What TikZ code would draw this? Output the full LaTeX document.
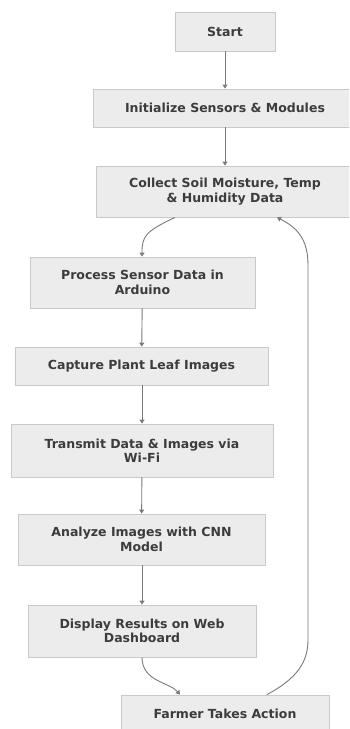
\documentclass[tikz,border=0pt]{standalone}
\usepackage{fontspec}
\setmainfont{DejaVu Sans}
\usetikzlibrary{arrows.meta}
\definecolor{boxfill}{HTML}{ECECEC}
\definecolor{boxline}{HTML}{C9C9C9}
\definecolor{txt}{HTML}{3C3C3C}
\definecolor{arr}{HTML}{7A7A7A}
\tikzset{
  stepbox/.style={draw=boxline, fill=boxfill, line width=0.9pt, inner sep=0pt,
    align=center, text=txt, font=\fontsize{12.5}{14.5}\selectfont\bfseries},
  flow/.style={draw=arr, line width=0.9pt, -{Triangle[width=5pt,length=4pt]}}
}
\begin{document}
\begin{tikzpicture}[x=1pt,y=-1pt]
\useasboundingbox (0,0) rectangle (349,729);
\clip (0,0) rectangle (349,729);
\fill[white] (0,0) rectangle (349,729);
\node[stepbox, minimum width=100pt, minimum height=39pt] (start) at (225,31.5) {Start};
\node[stepbox, minimum width=264pt, minimum height=38pt] (init) at (225,108) {Initialize Sensors \& Modules};
\node[stepbox, minimum width=258pt, minimum height=51pt] (collect) at (225,191.5) {Collect Soil Moisture, Temp\\\& Humidity Data};
\node[stepbox, minimum width=225pt, minimum height=51pt] (process) at (142.5,282.5) {Process Sensor Data in\\Arduino};
\node[stepbox, minimum width=253pt, minimum height=38pt] (capture) at (141.5,366) {Capture Plant Leaf Images};
\node[stepbox, minimum width=262pt, minimum height=53pt] (transmit) at (142,450.5) {Transmit Data \& Images via\\Wi-Fi};
\node[stepbox, minimum width=247pt, minimum height=51pt] (analyze) at (141.5,539.5) {Analyze Images with CNN\\Model};
\node[stepbox, minimum width=228pt, minimum height=52pt] (display) at (142,631) {Display Results on Web\\Dashboard};
\node[stepbox, minimum width=208pt, minimum height=38pt] (farmer) at (225,714) {Farmer Takes Action};

\draw[flow] (start) -- (init);
\draw[flow] (init) -- (collect);
\draw[flow] ([xshift=-50pt]collect.south) .. controls +(-30,14) and +(0,-20) .. ([xshift=-0.5pt]process.north);
\draw[flow] (process) -- (capture);
\draw[flow] (capture.south -| transmit.north) -- (transmit);
\draw[flow] (transmit) -- (analyze);
\draw[flow] (analyze.south -| display.north) -- (display);
\draw[flow] (display.south) .. controls +(0,24) and +(-10,-12) .. ([xshift=-45pt]farmer.north);
\draw[flow] ([xshift=42pt]farmer.north) .. controls +(30,-16) and +(0,22) .. (308,640) -- (308,265)
  .. controls +(0,-26) and +(20,10) .. ([xshift=52pt]collect.south);
\end{tikzpicture}
\end{document}
